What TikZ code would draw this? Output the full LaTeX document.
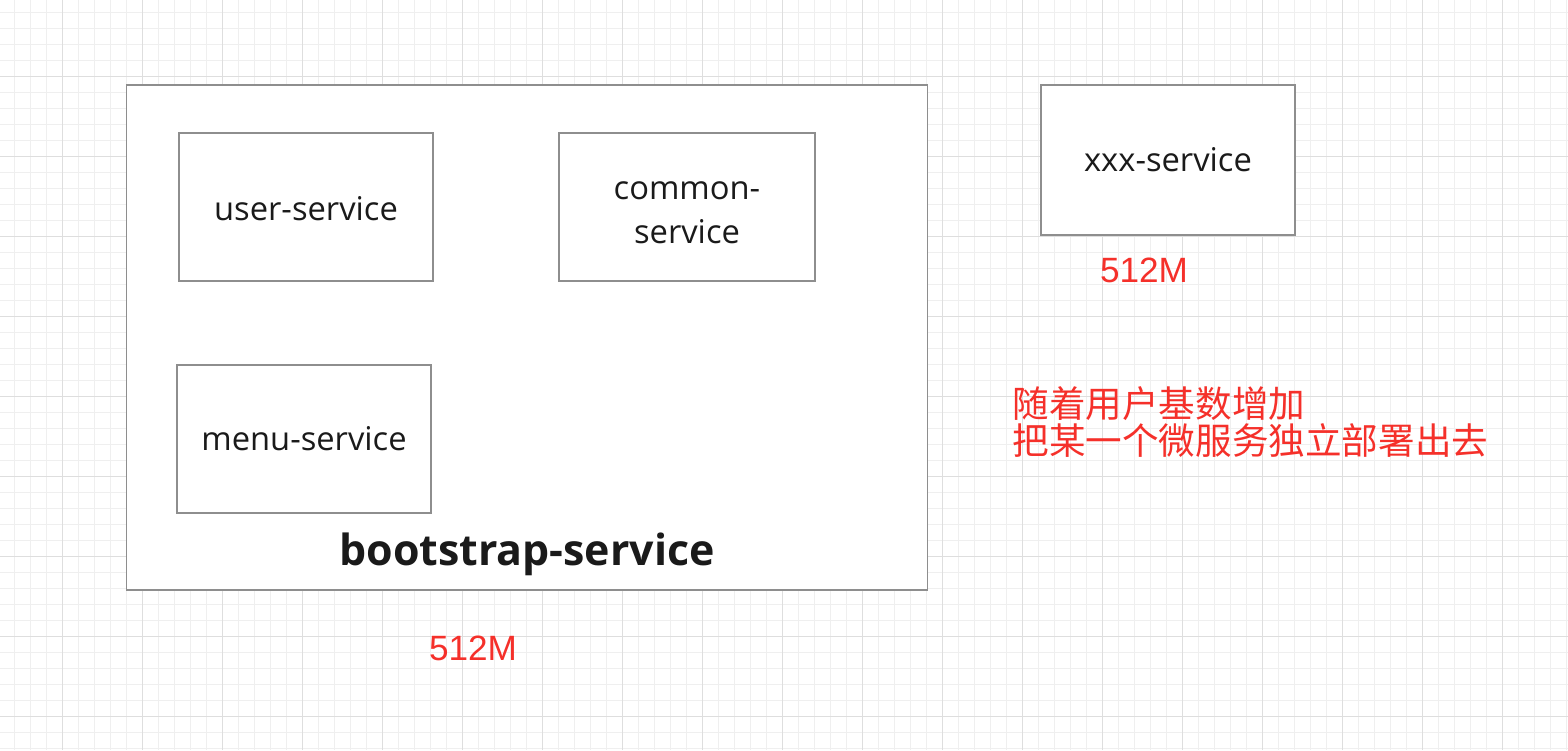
\documentclass[tikz,border=0pt]{standalone}
\usepackage{fontspec}
\setmainfont{Open Sans}
\newfontfamily\cjk{Noto Sans CJK SC}
\newfontfamily\helv{Liberation Sans}
\definecolor{gridminor}{HTML}{EFEFEF}
\definecolor{gridmajor}{HTML}{DEDEDE}
\definecolor{boxline}{HTML}{8E8E8E}
\definecolor{memred}{HTML}{F5302A}
\definecolor{inkblack}{HTML}{1A1A1A}
\tikzset{
	svcbox/.style={draw=boxline, line width=0.4pt, fill=white, minimum width=2.54cm, minimum height=1.48cm,
		inner sep=0pt, align=center, text=inkblack, font=\fontsize{9.3pt}{12.6pt}\selectfont},
	svctext/.style={inner sep=0pt, align=center, text=inkblack, font=\fontsize{9.3pt}{12.6pt}\selectfont},
	memlabel/.style={text=memred, font=\helv\fontsize{10pt}{12pt}\selectfont, inner sep=0pt},
	notelabel/.style={text=memred, font=\cjk\fontsize{10.4pt}{10.3pt}\selectfont, align=left, inner sep=0pt, anchor=west}
}
\begin{document}
\begin{tikzpicture}[x=0.01cm, y=-0.01cm]
	\useasboundingbox (0,0) rectangle (1568,750);
	\fill[white] (0,0) rectangle (1568,750);
	% background grid
	\foreach \i in {0,...,97}
		\draw[gridminor, line width=0.28pt] ({14.3+16*\i},0) -- ++(0,750);
	\foreach \i in {0,...,46}
		\draw[gridminor, line width=0.28pt] (0,{12.3+16*\i}) -- ++(1568,0);
	\foreach \i in {0,...,18}
		\draw[gridmajor, line width=0.28pt] ({62.3+80*\i},0) -- ++(0,750);
	\foreach \i in {0,...,8}
		\draw[gridmajor, line width=0.28pt] (0,{76.3+80*\i}) -- ++(1568,0);
	% boxes
	\node[svcbox, minimum width=8cm, minimum height=5.05cm] (bootstrap) at (527,337.5) {};
	\node[svcbox] (user) at (306,207) {};
	\node[svctext] (usertext) at (306,209) {user-service};
	\node[svcbox, minimum width=2.56cm] (common) at (687,207) {};
	\node[svctext] (commontext) at (687,213) {common-\\service};
	\node[svcbox] (menu) at (304,439) {menu-service};
	\node[svcbox, minimum height=1.5cm] (xxx) at (1168,160) {xxx-service};
	\node[text=inkblack, font=\bfseries\fontsize{12.2pt}{14pt}\selectfont, inner sep=0pt] (bootname) at (527,554) {bootstrap-service};
	% memory labels
	\node[memlabel] (xxxmem) at (1144,270) {512M};
	\node[memlabel] (bootmem) at (473,648) {512M};
	\node[notelabel] (note) at (1012,422) {随着用户基数增加\\把某一个微服务独立部署出去};
\end{tikzpicture}
\end{document}
